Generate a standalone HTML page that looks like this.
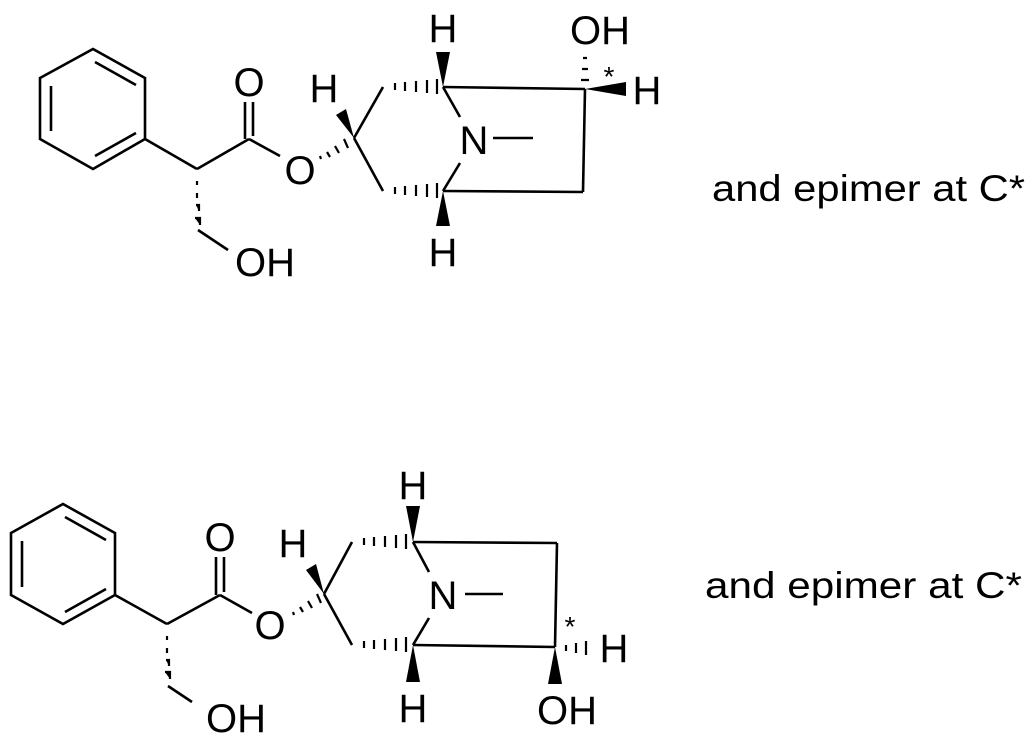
<!DOCTYPE html>
<html><head><meta charset="utf-8"><style>body{margin:0;background:#fff}svg{display:block}</style></head>
<body>
<svg width="1035" height="740" viewBox="0 0 1035 740" xmlns="http://www.w3.org/2000/svg" font-family="Liberation Sans, sans-serif" fill="#000">
<g stroke="#000" stroke-width="2.6" fill="none" stroke-linecap="butt">
<polygon points="93,49 145,78 145,139 93,169 40,139 40,78"/>
<line x1="95" y1="62" x2="136" y2="85"/>
<line x1="136" y1="133" x2="95" y2="156"/>
<line x1="51" y1="86" x2="51" y2="131"/>
<line x1="145" y1="139" x2="197" y2="169"/>
<line x1="197" y1="169" x2="249" y2="139"/>
<line x1="245" y1="102" x2="245" y2="139"/>
<line x1="253" y1="102" x2="253" y2="136"/>
<line x1="249" y1="139" x2="280" y2="156"/>
<line x1="383" y1="87" x2="354" y2="138"/>
<line x1="354" y1="138" x2="383" y2="191"/>
<line x1="443" y1="87" x2="460" y2="117"/>
<line x1="443" y1="191" x2="460" y2="163"/>
<line x1="493" y1="138" x2="533" y2="138"/>
<line x1="443" y1="87" x2="585" y2="89"/>
<line x1="585" y1="89" x2="583" y2="192"/>
<line x1="583" y1="192" x2="443" y2="191"/>
<line x1="198" y1="230" x2="228" y2="250"/>
<polygon points="63,504 115,533 115,595 63,624 11,595 11,533"/>
<line x1="65" y1="517" x2="106" y2="540"/>
<line x1="106" y1="589" x2="65" y2="612"/>
<line x1="22" y1="541" x2="22" y2="587"/>
<line x1="115" y1="595" x2="167" y2="624"/>
<line x1="167" y1="624" x2="220" y2="595"/>
<line x1="216" y1="557" x2="216" y2="595"/>
<line x1="224" y1="557" x2="224" y2="592"/>
<line x1="220" y1="595" x2="252" y2="613"/>
<line x1="352" y1="542" x2="324" y2="594"/>
<line x1="324" y1="594" x2="352" y2="645"/>
<line x1="413" y1="542" x2="429" y2="572"/>
<line x1="413" y1="645" x2="429" y2="618"/>
<line x1="465" y1="594" x2="503" y2="594"/>
<line x1="413" y1="542" x2="557" y2="543"/>
<line x1="557" y1="543" x2="555" y2="647"/>
<line x1="555" y1="647" x2="413" y2="645"/>
<line x1="168" y1="686" x2="192" y2="702"/>
</g>
<g stroke="#000" stroke-width="2.2">
<path d="M197,181v4M197,193v5M196,205h3v6M195,218h5v7"/>
<path d="M395,83v7M405,82v9M416,81v11M427,80v13M437,79v15"/>
<path d="M395,187v7M405,186v9M416,185v11M427,184v13M437,183v15"/>
<path d="M321,159l-1,-3M330,157l-3,-5M339,153l-4,-7M348,148l-4,-9"/>
<path d="M581,80h8M582,69h6M583,58h4"/>
<path d="M167,636v4M167,648v5M166,660h3v6M165,672h5v7"/>
<path d="M364,538v7M374,537v9M385,536v11M396,535v13M406,534v15"/>
<path d="M364,641v7M374,640v9M385,639v11M396,638v13M406,637v15"/>
<path d="M294,615l-1,-3M303,612l-3,-5M312,608l-4,-7M321,603l-4,-9"/>
<path d="M566,645v6M576,643v10M586,641v14"/>
</g>
<g stroke="none">
<polygon points="354,138 336,115 346,109"/>
<polygon points="443,87 436,52 450,52"/>
<polygon points="443,191 436,226 450,226"/>
<polygon points="585,89 626,82 626,96"/>
<polygon points="324,594 306,570 316,564"/>
<polygon points="413,542 406,506 420,506"/>
<polygon points="413,645 406,682 420,682"/>
<polygon points="555,647 548,684 562,684"/>
</g>
<g font-size="40" text-anchor="middle">
<text x="249" y="96">O</text>
<text x="300" y="184">O</text>
<text x="265" y="276">OH</text>
<text x="324" y="102">H</text>
<text x="474" y="154">N</text>
<text x="443" y="42">H</text>
<text x="443" y="266">H</text>
<text x="600" y="44">OH</text>
<text x="647" y="104">H</text>
<text font-size="28" x="609" y="86">*</text>
<text x="220" y="551">O</text>
<text x="270" y="639">O</text>
<text x="236" y="732">OH</text>
<text x="293" y="557">H</text>
<text x="443" y="609">N</text>
<text x="413" y="499">H</text>
<text x="413" y="722">H</text>
<text x="567" y="724">OH</text>
<text x="614" y="662">H</text>
<text font-size="28" x="570" y="636">*</text>
</g>
<text x="712" y="201" font-size="37" textLength="313" lengthAdjust="spacingAndGlyphs">and epimer at C*</text>
<text x="705" y="598" font-size="37" textLength="317" lengthAdjust="spacingAndGlyphs">and epimer at C*</text>
</svg>
</body></html>
